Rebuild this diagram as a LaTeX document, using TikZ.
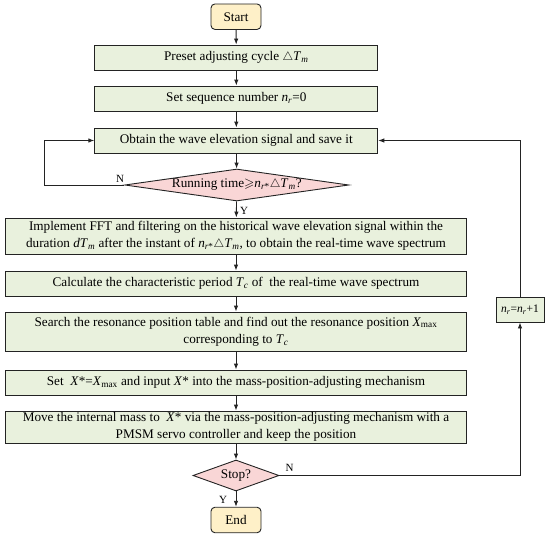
\documentclass[tikz,border=0pt]{standalone}
\usepackage{fontspec}
\setmainfont{Liberation Serif}
\usepackage{amssymb}
\usetikzlibrary{shapes.geometric,arrows.meta}
\definecolor{boxgreen}{RGB}{233,241,221}
\definecolor{dpink}{RGB}{249,214,214}
\definecolor{tbeige}{RGB}{254,240,200}
\definecolor{edgec}{RGB}{35,35,35}
\newcommand{\myT}[1]{\textit{T}\textsubscript{\textit{#1}}}
\newcommand{\mynr}{\textit{n}\textsubscript{\textit{r}}}
\newcommand{\myXmax}{\textit{X}\textsubscript{max}}
\newcommand{\mytri}{$\triangle$}
\tikzset{
  base/.style={draw=edgec, line width=0.9pt, inner sep=0pt, align=center, font=\fontsize{13.2}{17.3}\selectfont},
  procbox/.style={base, fill=boxgreen, rectangle},
  termbox/.style={base, fill=tbeige, rectangle, rounded corners=4pt, minimum width=50pt, minimum height=25.5pt},
  decbox/.style={base, fill=dpink, diamond},
  conn/.style={draw=edgec, line width=0.9pt, -{Latex[length=6pt,width=4.5pt]}},
  lbl/.style={font=\fontsize{11}{13}\selectfont, inner sep=0pt}
}
\begin{document}
\begin{tikzpicture}[x=1pt,y=-1pt]
\useasboundingbox (0,0) rectangle (550,538);
\node[termbox] (start) at (236,16.7) {Start};
\node[procbox, minimum width=283pt, minimum height=25pt] (preset) at (236.3,57.5) {Preset adjusting cycle \mytri\myT{m}};
\node[procbox, minimum width=283pt, minimum height=25pt] (setn) at (236.3,98.5) {Set sequence number \mynr=0};
\node[procbox, minimum width=283pt, minimum height=25pt] (obtain) at (236.3,140.5) {Obtain the wave elevation signal and save it};
\node[decbox, minimum width=224pt, minimum height=32pt] (d1) at (236.8,185) {};
\node[font=\fontsize{13.2}{15}\selectfont, inner sep=0pt] (d1t) at (d1) {Running time$\geqslant$\textit{n}\textsubscript{\textit{r}*}\mytri\myT{m}?};
\node[procbox, minimum width=461pt, minimum height=36pt] (fft) at (236,236) {Implement FFT and filtering on the historical wave elevation signal within the\\duration \textit{d}\myT{m} after the instant of \textit{n}\textsubscript{\textit{r}*}\mytri\myT{m}, to obtain the real-time wave spectrum};
\node[procbox, minimum width=461pt, minimum height=25pt] (calc) at (236,283.5) {Calculate the characteristic period \myT{c} of~ the real-time wave spectrum};
\node[procbox, minimum width=461pt, minimum height=39pt] (search) at (236,331.5) {Search the resonance position table and find out the resonance position \myXmax\\corresponding to \myT{c}};
\node[procbox, minimum width=461pt, minimum height=25pt] (setx) at (236,382.5) {Set~ \textit{X}*=\myXmax{} and input \textit{X}* into the mass-position-adjusting mechanism};
\node[procbox, minimum width=461pt, minimum height=32pt] (move) at (236,427) {Move the internal mass to~ \textit{X}* via the mass-position-adjusting mechanism with a\\PMSM servo controller and keep the position};
\node[decbox, minimum width=86pt, minimum height=31pt] (stop) at (236,475.5) {};
\node[font=\fontsize{13.2}{15}\selectfont, inner sep=0pt] (stopt) at (stop) {Stop?};
\node[termbox] (end) at (236,520) {End};
\node[procbox, minimum width=48pt, minimum height=25pt, font=\fontsize{11.5}{13}\selectfont] (nr) at (520,309.5) {\mynr=\mynr+1};
\coordinate (lc) at (44,185);
\draw[conn] (start) -- (preset);
\draw[conn] (preset) -- (setn);
\draw[conn] (setn) -- (obtain);
\draw[conn] (obtain) -- (d1);
\draw[conn] (d1) -- (fft);
\draw[conn] (fft) -- (calc);
\draw[conn] (calc) -- (search);
\draw[conn] (search) -- (setx);
\draw[conn] (setx) -- (move);
\draw[conn] (move) -- (stop);
\draw[conn] (stop) -- (end);
\draw[conn] (d1.west) -- (lc) |- (obtain.west);
\draw[conn] (stop.east) -| (nr.south);
\draw[conn] (nr.north) |- (obtain.east);
\node[lbl] (n1) at (120,178.5) {N};
\node[lbl] (y1) at (244,210.5) {Y};
\node[lbl] (n2) at (289.5,468) {N};
\node[lbl] (y2) at (223,499.5) {Y};
\end{tikzpicture}
\end{document}
